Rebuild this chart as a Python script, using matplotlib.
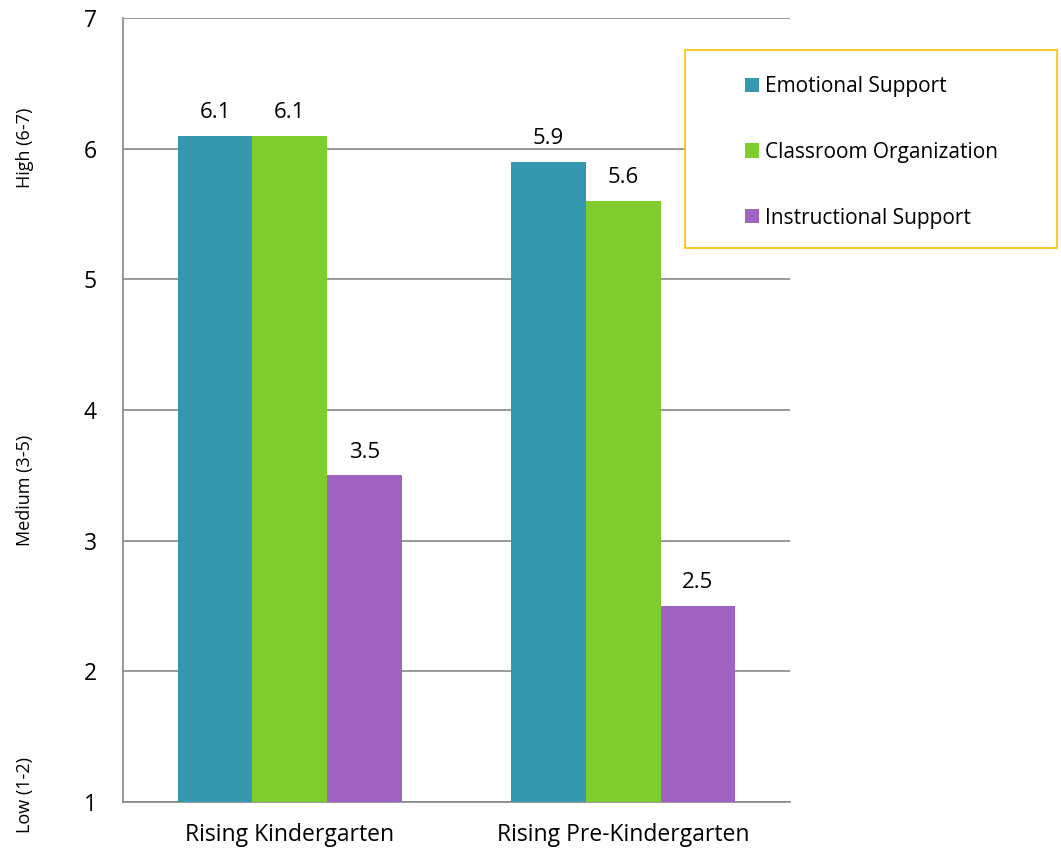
import numpy as np
import matplotlib
matplotlib.use('Agg')
import matplotlib.pyplot as plt
from matplotlib.patches import Rectangle

plt.rcParams['font.family'] = ['Open Sans', 'DejaVu Sans']

categories = ["Rising Kindergarten", "Rising Pre-Kindergarten"]
series = ["Emotional Support", "Classroom Organization", "Instructional Support"]
emotional = [6.1, 5.9]
organization = [6.1, 5.6]
instructional = [3.5, 2.5]
band_labels = ["High (6-7)", "Medium (3-5)", "Low (1-2)"]
band_y = [148, 490, 795]  # pixel centres of the band labels

colors = ["#3598AE", "#7ECC2E", "#A163C2"]

fig = plt.figure(figsize=(10.61, 8.5), dpi=100)
ax = fig.add_axes([123/1061, 1-802/850, (790-123)/1061, (802-18)/850])

x = np.arange(len(categories))
bar_width = 0.2235
values = [emotional, organization, instructional]
for i, (vals, label, col) in enumerate(zip(values, series, colors)):
    offset = (i - 1) * bar_width
    bars = ax.bar(x + offset, np.array(vals) - 1, bar_width, bottom=1, color=col,
                  label=label, zorder=3)
    for b, v in zip(bars, vals):
        ax.annotate(f"{v:.1f}", (b.get_x() + b.get_width()/2, v), xytext=(0, 9),
                    textcoords="offset points", ha="center", va="bottom", fontsize=16)

ax.set_xlim(-0.5, 1.5)
ax.set_ylim(1, 7)
ax.set_yticks(range(1, 8))
ax.set_xticks(x, categories)
ax.tick_params(axis="both", length=0, labelsize=16.5)
ax.tick_params(axis="y", pad=19)
ax.tick_params(axis="x", pad=15)
ax.grid(axis="y", color="#888888", linewidth=1.2, zorder=0)
for s in ["top", "right"]:
    ax.spines[s].set_visible(False)
for s in ["left", "bottom"]:
    ax.spines[s].set_color("#888888")
    ax.spines[s].set_linewidth(1.2)

for lab, py in zip(band_labels, band_y):
    fig.text(25/1061, 1 - py/850, lab, rotation=90, ha="center", va="center", fontsize=13)

# legend box drawn separately (white, covers gridlines), entries placed inside
fig.patches.append(Rectangle((685/1061, 1-248/850), (1057-685)/1061, (248-50)/850,
                             transform=fig.transFigure, facecolor="white",
                             edgecolor="#FFC000", linewidth=1.2, zorder=4))
leg = fig.legend(loc="upper left", bbox_to_anchor=(745/1061, 1-76/850),
                 fontsize=15, frameon=False,
                 handlelength=0.67, handleheight=0.67, handletextpad=0.3,
                 labelspacing=2.15, borderpad=0, borderaxespad=0)
leg.set_zorder(5)

fig.savefig("out.png", dpi=100)
